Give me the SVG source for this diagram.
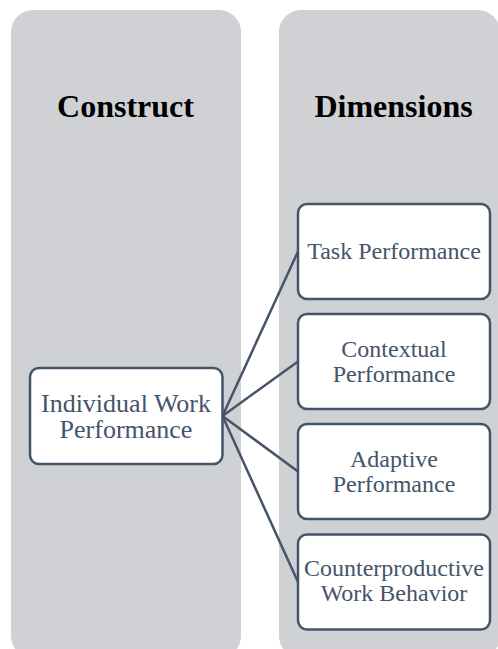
<svg xmlns="http://www.w3.org/2000/svg" width="498" height="649" viewBox="0 0 498 649">
  <style>
    .panel { fill: #D0D1D5; }
    .head { font-family: "Liberation Serif", "Times New Roman", Times, "DejaVu Serif", serif; font-weight: bold; font-size: 32px; fill: #000; text-anchor: middle; }
    .box { fill: #FFFFFF; stroke: #44546A; stroke-width: 2.5; }
    .label { font-family: "Liberation Serif", "Times New Roman", Times, "DejaVu Serif", serif; font-weight: 400; font-style: normal; font-size: 24px; fill: #44546A; text-anchor: middle; }
    .big { font-size: 26px; }
    .conn { stroke: #44546A; stroke-width: 2.5; fill: none; }
  </style>

  <!-- column backgrounds -->
  <g id="col-construct">
    <rect class="panel" x="11" y="10" width="230" height="648" rx="22"/>
    <text class="head" x="125.5" y="117">Construct</text>
  </g>
  <g id="col-dimensions">
    <rect class="panel" x="279" y="10" width="221" height="648" rx="22"/>
    <text class="head" x="393.5" y="117">Dimensions</text>
  </g>

  <!-- connectors -->
  <g id="connectors">
    <line class="conn" x1="222.5" y1="416" x2="298" y2="251.5"/>
    <line class="conn" x1="222.5" y1="416" x2="298" y2="361.5"/>
    <line class="conn" x1="222.5" y1="416" x2="298" y2="471.5"/>
    <line class="conn" x1="222.5" y1="416" x2="298" y2="582"/>
  </g>

  <g id="individual-work-performance">
    <rect class="box" x="30" y="368" width="192.5" height="96" rx="9"/>
    <text class="label big" x="126" y="411.5">Individual Work</text>
    <text class="label big" x="126" y="438">Performance</text>
  </g>

  <g id="task-performance">
    <rect class="box" x="298" y="204" width="192" height="95" rx="9"/>
    <text class="label" x="394" y="259">Task Performance</text>
  </g>

  <g id="contextual-performance">
    <rect class="box" x="298" y="314" width="192" height="95" rx="9"/>
    <text class="label" x="394" y="357">Contextual</text>
    <text class="label" x="394" y="382">Performance</text>
  </g>

  <g id="adaptive-performance">
    <rect class="box" x="298" y="424" width="192" height="95" rx="9"/>
    <text class="label" x="394" y="467">Adaptive</text>
    <text class="label" x="394" y="492">Performance</text>
  </g>

  <g id="counterproductive-work-behavior">
    <rect class="box" x="298" y="534.5" width="192" height="95" rx="9"/>
    <text class="label" x="394" y="575.5">Counterproductive</text>
    <text class="label" x="394" y="601">Work Behavior</text>
  </g>
</svg>
